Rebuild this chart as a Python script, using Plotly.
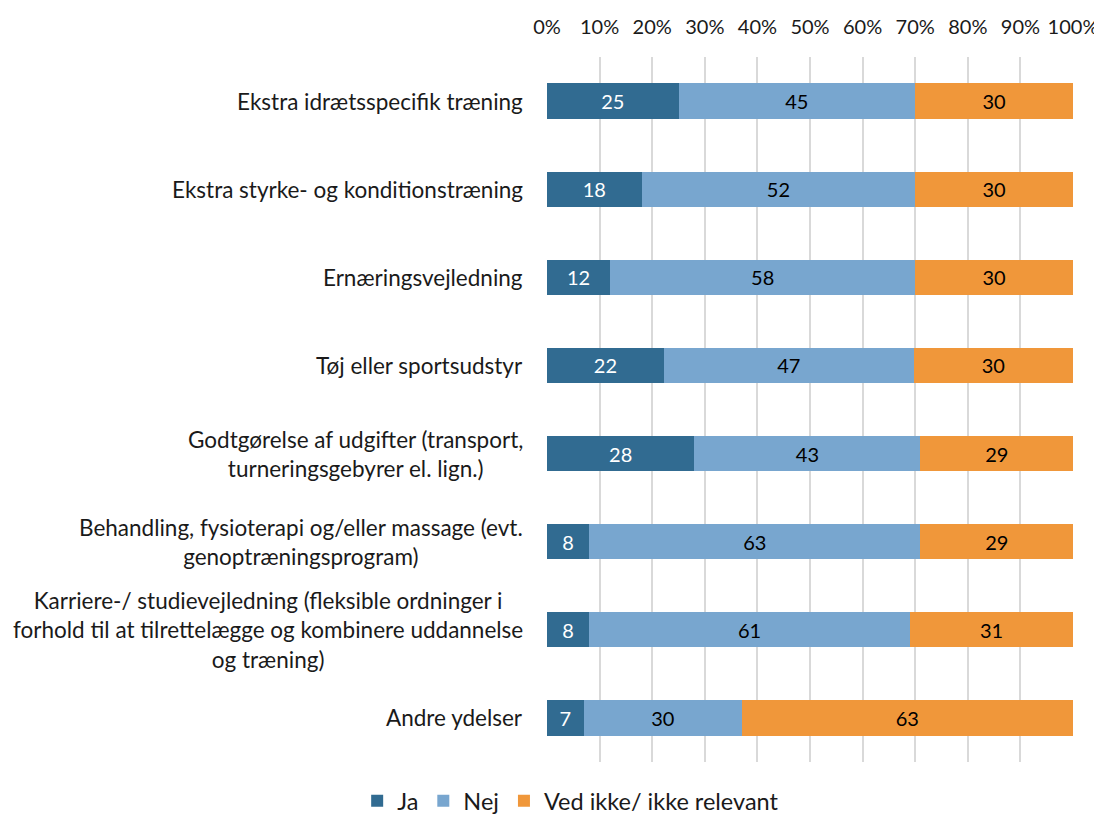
import plotly.graph_objects as go

categories = [
    "Ekstra idrætsspecifik træning",
    "Ekstra styrke- og konditionstræning",
    "Ernæringsvejledning",
    "Tøj eller sportsudstyr",
    "Godtgørelse af udgifter (transport,<br>turneringsgebyrer el. lign.)",
    "Behandling, fysioterapi og/eller massage (evt.<br>genoptræningsprogram)",
    "Karriere-/ studievejledning (fleksible ordninger i<br>forhold til at tilrettelægge og kombinere uddannelse<br>og træning)",
    "Andre ydelser",
]
ja = [25, 18, 12, 22, 28, 8, 8, 7]
nej = [45, 52, 58, 47, 43, 63, 61, 30]
ved_ikke = [30, 30, 30, 30, 29, 29, 31, 63]

series = [
    ("Ja", ja, "#316B91", "white"),
    ("Nej", nej, "#78A6CF", "black"),
    ("Ved ikke/ ikke relevant", ved_ikke, "#F0973A", "black"),
]

font = "Lato, 'Open Sans', sans-serif"
ids = list(range(len(categories)))

fig = go.Figure()
for name, vals, color, tcolor in series:
    fig.add_trace(go.Bar(
        y=ids, x=vals, name=name, orientation="h",
        marker=dict(color=color, line=dict(width=0)),
        text=vals, textposition="inside", insidetextanchor="middle",
        textfont=dict(color=tcolor, size=20, family=font),
        cliponaxis=False,
    ))

for i, c in enumerate(categories):
    fig.add_annotation(x=0, xref="paper", y=i, yref="y", text=c,
                       xanchor="right", align="center", xshift=-22,
                       showarrow=False, font=dict(size=22.5, color="#1a1a1a", family=font))

# page body has an 8px margin, so the figure is 8px smaller than the window
fig.update_layout(
    barmode="stack", barnorm="percent", bargap=0.6,
    width=1094, height=815,
    margin=dict(l=539, r=29, t=49, b=61, autoexpand=False),
    plot_bgcolor="white", paper_bgcolor="white",
    font=dict(family=font, size=20, color="#1a1a1a"),
    uniformtext=dict(mode="show", minsize=10),
    legend=dict(orientation="h", x=0.045, xanchor="center",
                yref="container", y=0.0, yanchor="bottom",
                font=dict(size=23.5), traceorder="normal", itemwidth=30),
    xaxis=dict(side="top", range=[0, 100], tickvals=list(range(0, 101, 10)),
               ticktext=[f"{v}%" for v in range(0, 101, 10)],
               showgrid=True, gridcolor="#D9D9D9", gridwidth=2,
               zeroline=False, showline=False, ticks="", ticklabelstandoff=18,
               automargin=False, fixedrange=True),
    yaxis=dict(autorange=False, showticklabels=False, showgrid=False,
               zeroline=False, range=[7.5, -0.5], automargin=False),
)

fig.write_html("out.html")
